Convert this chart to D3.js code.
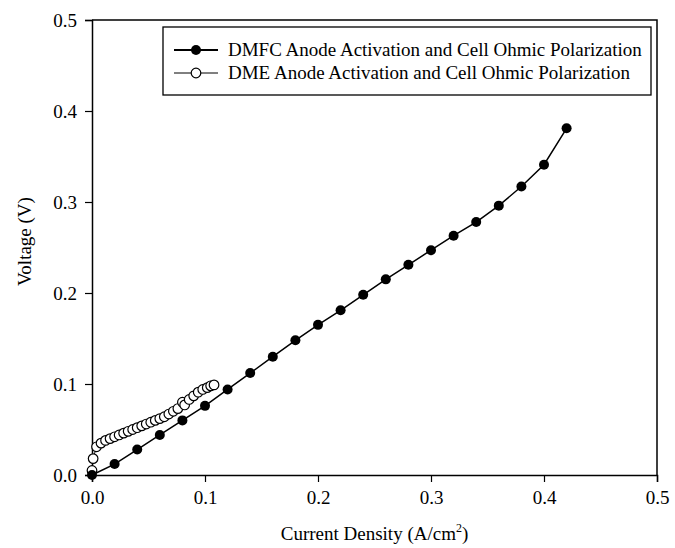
<!DOCTYPE html>
<html>
<head>
<meta charset="utf-8">
<script src="https://cdn.jsdelivr.net/npm/d3@7"></script>
<style>
  body { margin: 0; background: #fff; }
  svg text { font-family: "Liberation Serif", "Times New Roman", serif; fill: #000; }
</style>
</head>
<body>
<div id="container"></div>
<script>
const w = 675
const h = 548
const margin = { left: 92, right: 18, top: 20, bottom: 73 }

// DMFC: filled circles
const dmfcX = [0, 0.02, 0.04, 0.06, 0.08, 0.10, 0.12, 0.14, 0.16, 0.18, 0.20, 0.22,
               0.24, 0.26, 0.28, 0.30, 0.32, 0.34, 0.36, 0.38, 0.40, 0.42]
const dmfcY = [0, 0.012, 0.028, 0.044, 0.060, 0.076, 0.094, 0.112, 0.130, 0.148, 0.165, 0.181,
               0.198, 0.215, 0.231, 0.247, 0.263, 0.278, 0.296, 0.317, 0.341, 0.381]

// DME: open circles
const dmeX = [0, 0.001, 0.004, 0.008, 0.012, 0.016, 0.020, 0.024, 0.028, 0.032, 0.036, 0.040,
              0.044, 0.048, 0.052, 0.056, 0.060, 0.064, 0.068, 0.072, 0.076, 0.080, 0.082,
              0.086, 0.090, 0.094, 0.098, 0.102, 0.105, 0.108]
const dmeY = [0.005, 0.018, 0.031, 0.035, 0.038, 0.040, 0.042, 0.044, 0.046, 0.048, 0.050, 0.052,
              0.054, 0.056, 0.058, 0.060, 0.062, 0.064, 0.067, 0.070, 0.073, 0.080, 0.077,
              0.083, 0.087, 0.091, 0.094, 0.096, 0.098, 0.099]

const seriesNames = ['DMFC Anode Activation and Cell Ohmic Polarization',
                     'DME Anode Activation and Cell Ohmic Polarization']
const xTicks = [0, 0.1, 0.2, 0.3, 0.4, 0.5]
const yTicks = [0, 0.1, 0.2, 0.3, 0.4, 0.5]

const svg = d3.select('#container')
              .append('svg')
              .attr('width', w)
              .attr('height', h)

const xScale = d3.scaleLinear()
                 .domain([0, 0.5])
                 .range([margin.left, w - margin.right])
const yScale = d3.scaleLinear()
                 .domain([0, 0.5])
                 .range([h - margin.bottom, margin.top])

// minor ticks
const xMinor = d3.axisBottom(xScale).tickValues(d3.range(0, 0.501, 0.02)).tickSize(4).tickFormat('')
const yMinor = d3.axisLeft(yScale).tickValues(d3.range(0, 0.501, 0.02)).tickSize(4).tickFormat('')
const xAxis = d3.axisBottom(xScale).tickValues(xTicks).tickSize(7).tickPadding(9).tickFormat(d3.format('.1f'))
const yAxis = d3.axisLeft(yScale).tickValues(yTicks).tickSize(7).tickPadding(8).tickFormat(d3.format('.1f'))

const gx = svg.append('g')
   .attr('transform', 'translate(0, ' + (h - margin.bottom) + ')')
gx.call(xMinor)
gx.call(xAxis)
const gy = svg.append('g')
   .attr('transform', 'translate(' + margin.left + ', 0)')
gy.call(yMinor)
gy.call(yAxis)

svg.selectAll('.domain').attr('stroke', '#000').attr('stroke-width', 1.5)
svg.selectAll('.tick line').attr('stroke', '#000').attr('stroke-width', 1.2)
svg.selectAll('.tick text').style('font-size', '19px')

// frame top and right
svg.append('path')
   .attr('d', `M${xScale(0)},${yScale(0.5)}H${xScale(0.5)}V${yScale(0)}`)
   .attr('fill', 'none')
   .attr('stroke', '#000')
   .attr('stroke-width', 1.5)

// axis titles
svg.append('text')
   .attr('x', (xScale(0) + xScale(0.5)) / 2)
   .attr('y', h - 8)
   .attr('text-anchor', 'middle')
   .style('font-size', '19px')
   .html('Current Density (A/cm<tspan dy="-8" font-size="12">2</tspan><tspan dy="8">)</tspan>')

svg.append('text')
   .attr('transform', `translate(31, ${(yScale(0) + yScale(0.5)) / 2 - 6}) rotate(-90)`)
   .attr('text-anchor', 'middle')
   .style('font-size', '19px')
   .text('Voltage (V)')

const line = d3.line().x(d => xScale(d[0])).y(d => yScale(d[1]))
const dmfc = dmfcX.map((x, i) => [x, dmfcY[i]])
const dme = dmeX.map((x, i) => [x, dmeY[i]])

svg.append('path').datum(dmfc).attr('d', line)
   .attr('fill', 'none').attr('stroke', '#000').attr('stroke-width', 1.5)
svg.append('path').datum(dme).attr('d', line)
   .attr('fill', 'none').attr('stroke', '#000').attr('stroke-width', 1)

svg.selectAll('circle.dme')
   .data(dme)
   .enter()
   .append('circle')
   .attr('class', 'dme')
   .attr('cx', d => xScale(d[0]))
   .attr('cy', d => yScale(d[1]))
   .attr('r', 4.8)
   .attr('fill', '#fff')
   .attr('stroke', '#000')
   .attr('stroke-width', 1.2)

svg.selectAll('circle.dmfc')
   .data(dmfc)
   .enter()
   .append('circle')
   .attr('class', 'dmfc')
   .attr('cx', d => xScale(d[0]))
   .attr('cy', d => yScale(d[1]))
   .attr('r', 5)
   .attr('fill', '#000')

// legend
const legend = svg.append('g')
legend.append('rect')
   .attr('x', 163).attr('y', 27).attr('width', 488).attr('height', 68)
   .attr('fill', '#fff').attr('stroke', '#000').attr('stroke-width', 1.3)

seriesNames.forEach((name, i) => {
  const yy = 50 + i * 23
  legend.append('line')
     .attr('x1', 174).attr('x2', 218).attr('y1', yy).attr('y2', yy)
     .attr('stroke', '#000').attr('stroke-width', i === 0 ? 1.8 : 1)
  legend.append('circle')
     .attr('cx', 196).attr('cy', yy).attr('r', i === 0 ? 5 : 4.8)
     .attr('fill', i === 0 ? '#000' : '#fff')
     .attr('stroke', '#000').attr('stroke-width', i === 0 ? 0 : 1.2)
  legend.append('text')
     .attr('x', 228).attr('y', yy + 6)
     .style('font-size', '19px')
     .text(name)
})
</script>
</body>
</html>
